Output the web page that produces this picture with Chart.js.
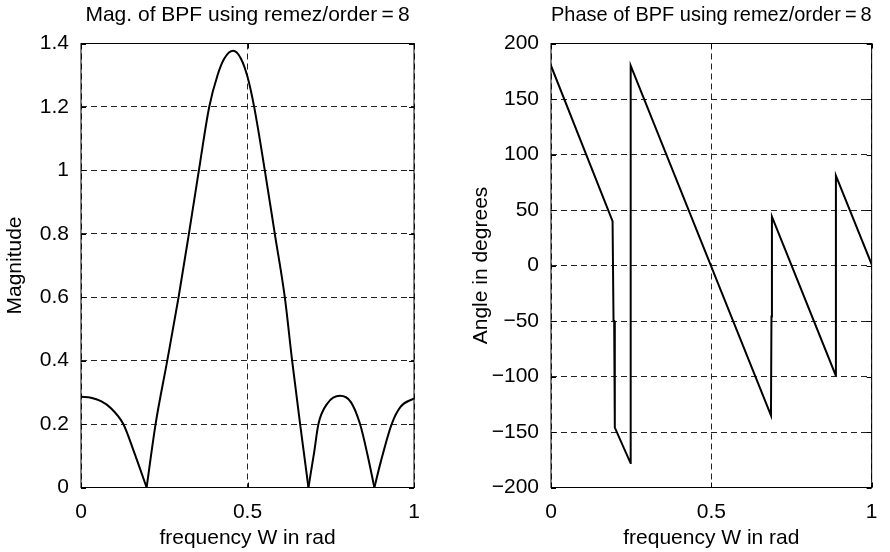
<!DOCTYPE html>
<html>
<head>
<meta charset="utf-8">
<script src="https://cdn.jsdelivr.net/npm/chart.js@4/dist/chart.umd.min.js"></script>
<style>
  html, body { margin: 0; padding: 0; background: #fff; }
  #wrap { position: relative; width: 890px; height: 552px; }
  canvas { position: absolute; top: 0; }
  #mag { left: 0; }
  #phase { left: 445px; }
</style>
</head>
<body>
<div id="wrap">
  <canvas id="mag" width="445" height="552"></canvas>
  <canvas id="phase" width="445" height="552"></canvas>
</div>
<script>
// magnitude curve (freq in units of pi rad)
const magFreq = [0, 0.03, 0.06, 0.09, 0.127, 0.16, 0.197,
  0.224, 0.259, 0.293, 0.324, 0.354, 0.385, 0.41, 0.43, 0.457, 0.48, 0.50, 0.52,
  0.552, 0.582, 0.612, 0.634, 0.658, 0.683,
  0.70, 0.713, 0.74, 0.778, 0.81, 0.838, 0.86, 0.881,
  0.90, 0.933, 0.96, 1.0];
const magValues = [0.286, 0.283, 0.272, 0.25, 0.2, 0.11, 0,
  0.2, 0.4, 0.6, 0.8, 1.0, 1.2, 1.30, 1.352, 1.377, 1.353, 1.295, 1.2,
  1.0, 0.8, 0.6, 0.4, 0.2, 0,
  0.11, 0.2, 0.265, 0.289, 0.27, 0.2, 0.105, 0,
  0.08, 0.2, 0.255, 0.281];

// phase curve
const phaseFreq = [0, 0.192, 0.195, 0.197, 0.199, 0.248, 0.2485,
  0.686, 0.6875, 0.689, 0.888, 0.8885, 1];
const phaseDeg = [180, 40, -50, -50, -146, -178, 180,
  -135, -46, 44, -99, 81, 1];

const freqTicks = [0, 0.5, 1];
const magTicks = [0, 0.2, 0.4, 0.6, 0.8, 1, 1.2, 1.4];
const phaseTicks = [-200, -150, -100, -50, 0, 50, 100, 150, 200];

Chart.defaults.font.family = "'Liberation Sans', Arial, sans-serif";
Chart.defaults.font.size = 21;
Chart.defaults.color = '#000';

// split the magnitude into lobes at the zeros so the V's stay sharp
function lobes(xs, ys) {
  const out = [];
  let cur = [];
  for (let i = 0; i < xs.length; i++) {
    cur.push({x: xs[i], y: ys[i]});
    if (ys[i] === 0 && i > 0 && i < xs.length - 1) {
      out.push(cur);
      cur = [{x: xs[i], y: ys[i]}];
    }
  }
  out.push(cur);
  return out;
}

function fmt(v) {
  const s = String(Math.round(v * 10) / 10);
  return s.replace('-', '\u2212');
}

// matlab style box + inward tick marks
const boxPlugin = {
  id: 'box',
  afterDraw(chart) {
    const {ctx, chartArea: a, scales} = chart;
    const x = scales.x, y = scales.y;
    ctx.save();
    ctx.strokeStyle = '#000';
    ctx.lineWidth = 1;
    ctx.setLineDash([]);
    ctx.strokeRect(a.left, a.top, a.right - a.left, a.bottom - a.top);
    const t = 5;
    ctx.beginPath();
    y.ticks.forEach(tk => {
      const py = Math.round(y.getPixelForValue(tk.value)) + 0.5;
      ctx.moveTo(a.left, py); ctx.lineTo(a.left + t, py);
      ctx.moveTo(a.right - t, py); ctx.lineTo(a.right, py);
    });
    x.ticks.forEach(tk => {
      const px = Math.round(x.getPixelForValue(tk.value)) + 0.5;
      ctx.moveTo(px, a.bottom); ctx.lineTo(px, a.bottom - t);
      ctx.moveTo(px, a.top); ctx.lineTo(px, a.top + t);
    });
    ctx.stroke();
    ctx.restore();
  }
};

function makeChart(el, cfg) {
  return new Chart(el, {
    type: 'line',
    data: {datasets: cfg.datasets},
    options: {
      responsive: false,
      animation: false,
      devicePixelRatio: 1,
      layout: {padding: {left: 0, right: cfg.padRight, top: 0, bottom: 0}},
      plugins: {
        legend: {display: false},
        tooltip: {enabled: false},
        title: {
          display: true,
          text: cfg.title,
          fullSize: false,
          font: {size: 21, weight: 'normal'},
          padding: {top: 2.4, bottom: 15.9}
        }
      },
      scales: {
        x: {
          type: 'linear',
          min: 0, max: 1,
          afterBuildTicks: s => { s.ticks = freqTicks.map(v => ({value: v})); },
          afterFit: s => { s.height = 64.5; },
          ticks: {padding: 12.5, callback: v => fmt(v), maxRotation: 0, font: {size: 21}},
          grid: {color: '#222', drawTicks: false},
          border: {display: false, dash: [6, 4]},
          title: {display: true, text: 'frequency W in rad', font: {size: 21}, padding: {top: 0, bottom: 1.4}}
        },
        y: {
          type: 'linear',
          min: cfg.yTicks[0], max: cfg.yTicks[cfg.yTicks.length - 1],
          afterBuildTicks: s => { s.ticks = cfg.yTicks.map(v => ({value: v})); },
          afterFit: s => { s.width = cfg.yWidth; },
          ticks: {padding: 12, callback: v => fmt(v), font: {size: 21}},
          grid: {color: '#222', drawTicks: false},
          border: {display: false, dash: [6, 4]},
          title: {display: true, text: cfg.yTitle, font: {size: 21}, padding: {top: cfg.yTitlePad, bottom: 0}}
        }
      }
    },
    plugins: [boxPlugin]
  });
}

const lineStyle = {
  borderColor: '#000',
  borderWidth: 2,
  pointRadius: 0,
  fill: false
};

makeChart(document.getElementById('mag'), {
  title: 'Mag. of BPF using remez/order\u2009=\u20098',
  yTitle: 'Magnitude',
  yTicks: magTicks,
  yWidth: 81,
  yTitlePad: 2.4,
  padRight: 31,
  datasets: lobes(magFreq, magValues).map(seg => Object.assign({
    data: seg,
    cubicInterpolationMode: 'monotone'
  }, lineStyle))
});

makeChart(document.getElementById('phase'), {
  title: 'Phase of BPF using remez/order\u2009=\u20098',
  yTitle: 'Angle in degrees',
  yTicks: phaseTicks,
  yWidth: 106,
  yTitlePad: 23.4,
  padRight: 6,
  datasets: [Object.assign({
    data: phaseFreq.map((f, i) => ({x: f, y: phaseDeg[i]})),
    tension: 0
  }, lineStyle)]
});
</script>
</body>
</html>
